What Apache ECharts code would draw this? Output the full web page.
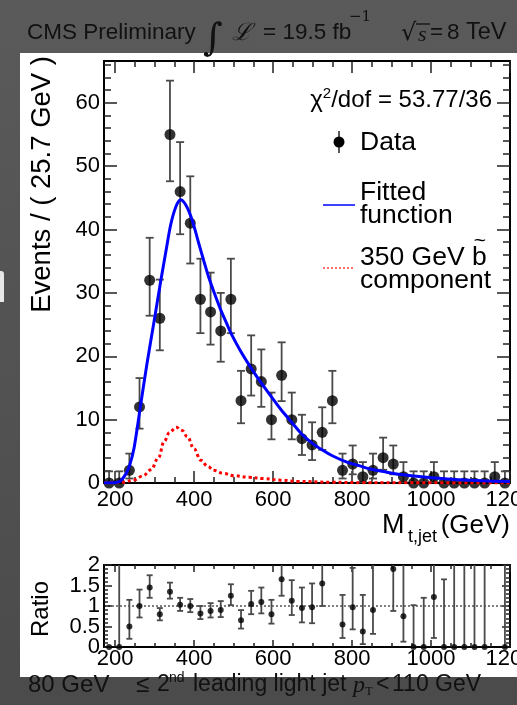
<!DOCTYPE html>
<html><head><meta charset="utf-8">
<script src="https://cdn.jsdelivr.net/npm/echarts@6/dist/echarts.min.js"></script>
<style>html,body{margin:0;padding:0;background:linear-gradient(#5a5a5a,#4b4b4b);}#c{width:517px;height:705px;}</style>
</head><body><div id="c"></div>
<script>
// ---------------- data ----------------
const binCenters = [184.85,210.55,236.25,261.95,287.65,313.35,339.05,364.75,390.45,416.15,441.85,467.55,493.25,518.95,544.65,570.35,596.05,621.75,647.45,673.15,698.85,724.55,750.25,775.95,801.65,827.35,853.05,878.75,904.45,930.15,955.85,981.55,1007.25,1032.95,1058.65,1084.35,1110.05,1135.75,1161.45,1187.15];
const counts = [0,0,2,12,32,26,55,46,41,29,27,24,29,13,18,16,10,17,10,7,6,8,13,2,3,1,2,4,3,1,0,0,1,0,0,0,0,0,1,0];
const countsLow = [0,0,0.71,8.58,26.4,20.94,47.62,39.26,34.64,23.65,21.84,19.14,23.65,9.43,13.8,12.02,6.89,12.92,6.89,4.42,3.62,5.23,9.43,0.71,1.37,0.17,0.71,2.09,1.37,0.17,0,0,0.17,0,0,0,0,0,0.17,0];
const countsHigh = [1.84,1.84,4.64,16.56,38.7,32.1,63.5,53.8,48.4,35.4,33.2,30.0,35.4,17.7,23.3,21.08,14.27,22.2,14.27,10.77,9.58,11.95,17.7,4.64,5.92,3.3,4.64,7.16,5.92,3.3,1.84,1.84,3.3,1.84,1.84,1.84,1.84,1.84,3.3,1.84];

const fitX = [172,195,205,215,227,236,248,264,281,298,316,330,341,354,366,378,390,400,412,425,437,450,467,484,493,518,545,570,596,620,647,673,699,725,750,787,820,846,880,905,950,989,1030,1073,1130,1200];
const fitY = [0,0.03,0.1,0.4,1.4,2.6,5.5,12,18.9,25.2,32,37,40.8,43.6,44.7,44.0,42.4,40.5,37.8,35.0,32.5,30.2,27.4,25.0,23.7,20.8,18.1,15.8,13.6,11.6,9.6,7.7,6.3,5.2,4.3,3.3,2.7,2.2,1.8,1.5,1.15,0.9,0.7,0.5,0.35,0.22];

const compX = [172,220,248,270,291,310,324,338,355,370,383,400,417,435,450,475,501,540,577,620,661,750,830,1000,1200];
const compY = [0,0.1,0.5,1.1,2.1,4,6.5,8.0,8.8,8.3,7.3,5.4,3.6,2.6,2.0,1.5,1.15,0.9,0.7,0.45,0.25,0.12,0.05,0.02,0.01];

const ratioVal  = [0,0,0.5,1.0,1.45,0.8,1.35,1.03,1.0,0.82,0.88,0.9,1.25,0.65,1.05,1.1,0.8,1.65,1.13,0.95,0.97,1.55,null,0.55,0.97,0.38,0.9,null,1.9,0.75,0,0,1.22,0,0,0,0,0,null,0];
const ratioLow  = [0,0,0.2,0.72,1.2,0.65,1.18,0.88,0.85,0.68,0.72,0.73,1.02,0.45,0.8,0.82,0.57,1.25,0.78,0.6,0.58,1.0,null,0.22,0.43,0.07,0.32,null,0.88,0.13,0,0,0.22,0,0,0,0,0,null,0];
const ratioHigh = [0,2.5,1.15,1.4,1.75,0.95,1.57,1.2,1.17,1.0,1.07,1.12,1.53,0.9,1.37,1.45,1.15,2.2,1.63,1.45,1.55,2.3,null,1.27,1.93,1.27,2.5,null,3,2.5,1.02,1.2,2.8,1.65,2.5,3,3,3,null,3];

const xLabels = [200,400,600,800,1000,1200];
const yLabelsMain = [0,10,20,30,40,50,60];
const yLabelsRatioA = [0,1,2];
const yLabelsRatioB = [0.5,1.5];

// ---------------- layout ----------------
const FONT = "'Liberation Sans', Arial, Helvetica, sans-serif";
const X_MIN = 172, X_MAX = 1200, Y_MAX = 66.6, R_MAX = 2;
const G0 = {left:104, top:61, width:406, height:422};
const G1 = {left:104, top:565, width:406, height:82};

function steps(a, b, s, skip) {
  const out = [];
  for (let v = a; v <= b + 1e-9; v += s) {
    const r = Math.round(v * 1000) / 1000;
    if (!skip || Math.abs(r / skip - Math.round(r / skip)) > 1e-6) out.push(r);
  }
  return out;
}
const xMinor = steps(200, 1200, 50, 200);
const yMinorMain = steps(0, 66, 2, 10);
const yMinorRatio = steps(0, 2, 0.1, 0.5);
const yMajorRatio = yLabelsRatioA.concat(yLabelsRatioB);

const tickStyle = {color:'#222', width:1.5};
const lineStyle = {color:'#000', width:2};

function axis(grid, pos, min, max, ticks, len, labels, showLine, labelOpts) {
  return {
    type:'value', gridIndex:grid, position:pos, min:min, max:max,
    splitLine:{show:false},
    axisLine:{show:showLine, onZero:false, lineStyle:lineStyle},
    axisTick:{show:!!ticks, inside:true, length:len, customValues:ticks || [], lineStyle:tickStyle},
    axisLabel:Object.assign({show:!!labels, customValues:labels || [], color:'#000', fontFamily:FONT, fontSize:22,
      showMinLabel:true, showMaxLabel:true, hideOverlap:false, formatter:v => String(v)}, labelOpts || {})
  };
}

const xAxes = [
  axis(0,'bottom',X_MIN,X_MAX,xLabels,12,xLabels,true,{margin:6}),
  axis(0,'bottom',X_MIN,X_MAX,xMinor,6,null,false),
  axis(0,'top',X_MIN,X_MAX,xLabels,12,null,true),
  axis(0,'top',X_MIN,X_MAX,xMinor,6,null,false),
  axis(1,'bottom',X_MIN,X_MAX,xLabels,7,xLabels,true,{margin:1}),
  axis(1,'bottom',X_MIN,X_MAX,xMinor,4,null,false),
  axis(1,'top',X_MIN,X_MAX,xLabels,7,null,true),
  axis(1,'top',X_MIN,X_MAX,xMinor,4,null,false)
];
const yAxes = [
  axis(0,'left',0,Y_MAX,yLabelsMain,13,yLabelsMain,true,{margin:4}),
  axis(0,'left',0,Y_MAX,yMinorMain,7,null,false),
  axis(0,'right',0,Y_MAX,yLabelsMain,13,null,true),
  axis(0,'right',0,Y_MAX,yMinorMain,7,null,false),
  axis(1,'left',0,R_MAX,yMajorRatio,8,yLabelsRatioA,true,{margin:4}),
  axis(1,'left',0,R_MAX,yMinorRatio,4,yLabelsRatioB,false,{margin:4}),
  axis(1,'right',0,R_MAX,yMajorRatio,8,null,true),
  axis(1,'right',0,R_MAX,yMinorRatio,4,null,false)
];

function errRender(capHalf, lw, ymax) {
  return function (params, api) {
    const x = api.value(0), lo = api.value(1), hi = api.value(2);
    if (isNaN(lo) || isNaN(hi) || hi <= lo) return null;
    const top = Math.min(hi, ymax);
    if (lo >= ymax) return null;
    const p1 = api.coord([x, lo]), p2 = api.coord([x, top]);
    const st = {stroke:'#4a4a4a', lineWidth:lw};
    const ch = [{type:'line', shape:{x1:p1[0], y1:p1[1], x2:p2[0], y2:p2[1]}, style:st},
                {type:'line', shape:{x1:p1[0]-capHalf, y1:p1[1], x2:p1[0]+capHalf, y2:p1[1]}, style:st}];
    if (hi <= ymax) ch.push({type:'line', shape:{x1:p2[0]-capHalf, y1:p2[1], x2:p2[0]+capHalf, y2:p2[1]}, style:st});
    return {type:'group', children:ch};
  };
}

const mainErr = binCenters.map((x, i) => [x, countsLow[i], countsHigh[i]]);
const mainPts = binCenters.map((x, i) => [x, counts[i]]);
const ratioErr = binCenters.map((x, i) => [x, ratioLow[i] == null ? NaN : ratioLow[i], ratioHigh[i] == null ? NaN : ratioHigh[i]]);
const ratioPts = binCenters.map((x, i) => [x, ratioVal[i]]).filter(d => d[1] != null);
const fitData = fitX.map((x, i) => [x, fitY[i]]);
const compData = compX.map((x, i) => [x, compY[i]]);

const T = (x, y, text, font, extra) => ({type:'text', x:x, y:y, z:100, style:Object.assign({text:text, font:font, fill:'#111', verticalAlign:'middle', textAlign:'left'}, extra || {})});

const graphics = [
  {type:'rect', z:-100, shape:{x:20, y:53, width:497, height:624}, style:{fill:'#ffffff'}, silent:true},
  {type:'rect', z:-100, shape:{x:0, y:271, width:4, height:31, r:[0,3,0,0]}, style:{fill:'#e8e8e8'}, silent:true},
  // top header
  T(27, 33, 'CMS Preliminary', "22.5px " + FONT),
  T(203, 40, '\u222B', "italic 38px 'DejaVu Serif'"),
  T(232, 34, '\u2112', "italic 24px 'DejaVu Serif'"),
  T(263, 33, '= 19.5 fb', "22.5px " + FONT),
  T(349, 17, '\u22121', "15px 'DejaVu Serif'"),
  T(401, 34, '\u221A', "24px 'DejaVu Sans'"),
  {type:'line', z:100, shape:{x1:416, y1:24, x2:430, y2:24}, style:{stroke:'#111', lineWidth:1.3}},
  T(418, 35, 's', "italic 22px 'Liberation Serif'"),
  T(430, 33, '=', "22.5px " + FONT),
  T(447, 33, '8', "22.5px " + FONT),
  T(466, 33, 'TeV', "23.5px " + FONT),
  // bottom caption
  T(28, 685, '80 GeV', "24px " + FONT),
  T(136, 685, '\u2264', "24px " + FONT),
  T(157, 685, '2', "23px " + FONT),
  T(169, 678, 'nd', "14px " + FONT),
  T(193, 685, 'leading light jet', "23px " + FONT),
  T(353, 686, 'p', "italic 24px 'Liberation Serif'"),
  T(365, 692, 'T', "13px 'Liberation Serif'"),
  T(376, 685, '<', "23px " + FONT),
  T(392, 685, '110 GeV', "23px " + FONT),
  // axis titles
  Object.assign(T(42, 56, 'Events / ( 25.7 GeV )', "27.5px " + FONT, {textAlign:'right', fill:'#000'}), {rotation:Math.PI / 2}),
  T(382, 526, 'M', "27px " + FONT, {fill:'#000'}),
  T(408, 537, 't,jet', "18px " + FONT, {fill:'#000'}),
  T(510, 526, '(GeV)', "26px " + FONT, {textAlign:'right', fill:'#000'}),
  Object.assign(T(41, 637, 'Ratio', "24px " + FONT, {fill:'#000'}), {rotation:Math.PI / 2}),
  // legend
  {type:'text', x:492, y:100, z:100, style:{text:'{a|\u03C7}{s|2}{a|/dof = 53.77/36}', textAlign:'right', verticalAlign:'middle', rich:{a:{font:"24px " + FONT, fill:'#000', lineHeight:28}, s:{font:"15px " + FONT, fill:'#000', verticalAlign:'top', lineHeight:16}}}},
  {type:'line', z:100, shape:{x1:339, y1:131, x2:339, y2:153}, style:{stroke:'#222', lineWidth:1.5}},
  {type:'circle', z:100, shape:{cx:339, cy:142, r:5.5}, style:{fill:'#000'}},
  T(360, 143, 'Data', "26.5px " + FONT, {fill:'#000'}),
  {type:'line', z:100, shape:{x1:323, y1:205, x2:355, y2:205}, style:{stroke:'#0000ff', lineWidth:1.5}},
  T(360, 193, 'Fitted', "26.5px " + FONT, {fill:'#000'}),
  T(360, 216, 'function', "26.5px " + FONT, {fill:'#000'}),
  {type:'line', z:100, shape:{x1:323, y1:268, x2:355, y2:268}, style:{stroke:'#ff4040', lineWidth:1.5, lineDash:[2,2]}},
  T(360, 258, '350 GeV b', "26.5px " + FONT, {fill:'#000'}),
  T(480, 241, '~', "21px " + FONT, {fill:'#000', textAlign:'center'}),
  T(360, 281, 'component', "26.5px " + FONT, {fill:'#000'})
];

const gridCommon = {containLabel:false, outerBoundsMode:'none'};
const option = {
  animation:false,
  backgroundColor:'transparent',
  grid:[Object.assign({}, gridCommon, G0), Object.assign({}, gridCommon, G1)],
  xAxis:xAxes,
  yAxis:yAxes,
  graphic:{elements:graphics},
  series:[
    {type:'custom', name:'errMain', xAxisIndex:0, yAxisIndex:0, data:mainErr, renderItem:errRender(4, 1.8, Y_MAX), z:3, clip:true},
    {type:'scatter', name:'Data', xAxisIndex:0, yAxisIndex:0, data:mainPts, symbol:'circle', symbolSize:11, itemStyle:{color:'#000'}, z:4, clip:false},
    {type:'line', name:'Fitted function', xAxisIndex:0, yAxisIndex:0, data:fitData, smooth:0.3, showSymbol:false, lineStyle:{color:'#0000ff', width:3}, z:6},
    {type:'line', name:'350 GeV component', xAxisIndex:0, yAxisIndex:0, data:compData, smooth:0.4, smoothMonotone:'x', showSymbol:false, lineStyle:{color:'#ff0000', width:3, type:[3,3]}, z:5},
    {type:'line', name:'unity', xAxisIndex:4, yAxisIndex:4, data:[[X_MIN,1],[X_MAX,1]], showSymbol:false, lineStyle:{color:'#000', width:1, type:[2,2]}, z:2, silent:true},
    {type:'custom', name:'errRatio', xAxisIndex:4, yAxisIndex:4, data:ratioErr, renderItem:errRender(3, 1.8, R_MAX), z:3, clip:true},
    {type:'scatter', name:'Ratio', xAxisIndex:4, yAxisIndex:4, data:ratioPts, symbol:'circle', symbolSize:6, itemStyle:{color:'#000'}, z:4, clip:false}
  ]
};
const chart = echarts.init(document.getElementById('c'));
chart.setOption(option);
</script></body></html>
